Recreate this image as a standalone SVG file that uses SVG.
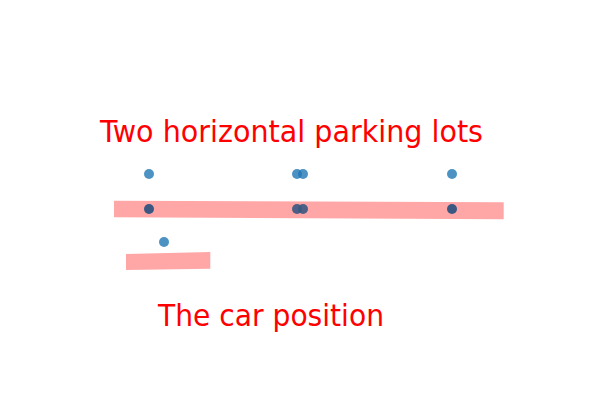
<svg xmlns="http://www.w3.org/2000/svg" width="616" height="402" viewBox="0 0 616 402">
<style>
.lot{fill:#ff0000;fill-opacity:0.35;stroke:none}
.pt{fill:#1f77b4;fill-opacity:0.8}
.pt-on{fill:#3a5882}
.lbl{font-family:"DejaVu Sans",Verdana,sans-serif;fill:#ff0000;font-size:30px}
</style>
<rect width="616" height="402" fill="#ffffff"/>
<g id="lot-big"><polygon class="lot" points="114,200.7 503.7,202.3 503.7,219.3 114,217.3"/></g>
<g id="lot-small"><polygon class="lot" points="126,254 210.3,252 210.3,268.7 126,270"/></g>
<g id="points">
<circle class="pt" cx="149" cy="174" r="5"/>
<circle class="pt" cx="297" cy="174" r="5"/>
<circle class="pt" cx="303" cy="174" r="5"/>
<circle class="pt" cx="452" cy="174" r="5"/>
<circle class="pt-on" cx="149" cy="209" r="5"/>
<circle class="pt-on" cx="297" cy="209" r="5" fill-opacity="0.9"/>
<circle class="pt-on" cx="303" cy="209" r="5" fill-opacity="0.9"/>
<circle class="pt-on" cx="452" cy="209" r="5"/>
<circle class="pt" cx="164" cy="242" r="5"/>
</g>
<g id="title"><text class="lbl" x="100" y="142" textLength="383" lengthAdjust="spacingAndGlyphs">Two horizontal parking lots</text></g>
<g id="car-label"><text class="lbl" x="158" y="326" textLength="226" lengthAdjust="spacingAndGlyphs">The car position</text></g>
</svg>
